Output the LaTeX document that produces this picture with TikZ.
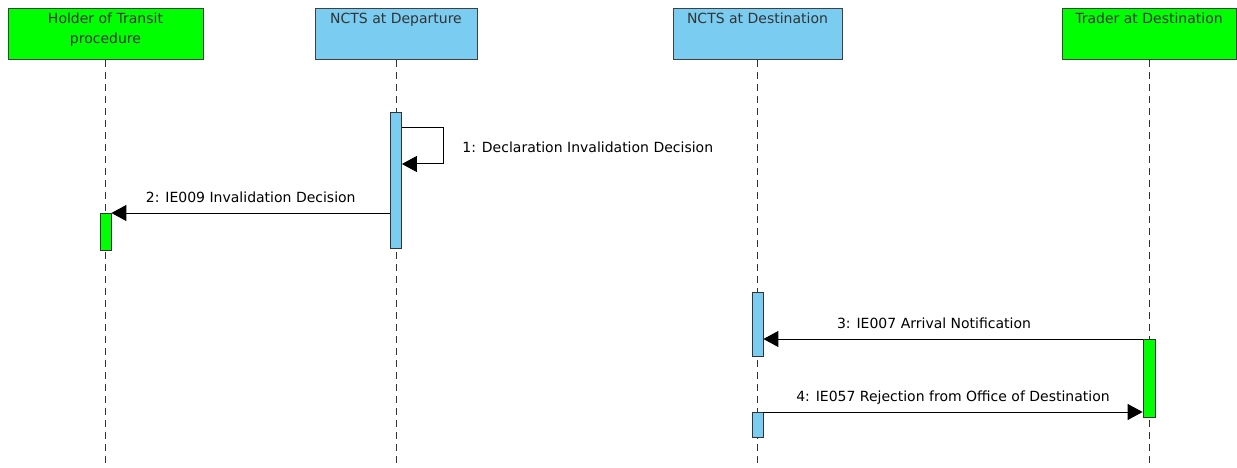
\documentclass[tikz,border=0pt]{standalone}
\usepackage{fontspec}
\setmainfont{DejaVu Sans}
\usetikzlibrary{arrows.meta}
\definecolor{lifeblue}{RGB}{122,204,240}
\definecolor{lifegreen}{RGB}{0,255,0}

\begin{document}
\begin{tikzpicture}[line join=miter,>={Triangle[length=15pt,width=16pt]},x=1pt,y=-1pt,
	head/.style={draw=black!75,line width=1pt,minimum height=51pt,anchor=north,inner sep=0pt},
	headtext/.style={anchor=north,align=center,inner sep=0pt,font=\fontsize{14}{20}\selectfont,text=black!80},
	life/.style={line width=0.8pt,dash pattern=on 7pt off 5pt,color=black!80},
	act/.style={draw=black!80,line width=0.8pt,minimum width=11pt,inner sep=0pt,anchor=north},
	msg/.style={line width=1pt,->},
	msgtext/.style={font=\fontsize{14}{17}\selectfont,inner sep=0pt,text depth=0pt}]
				\useasboundingbox (0,0) rectangle (1237,468);
				\node [head,fill=lifegreen,minimum width=195pt] (holder) at (105.5,8) {};
				\node [head,fill=lifeblue,minimum width=162pt] (dep) at (396,8) {};
				\node [head,fill=lifeblue,minimum width=169pt] (dst) at (757.5,8) {};
				\node [head,fill=lifegreen,minimum width=174pt] (trd) at (1149,8) {};
				\node [headtext] (holder-name) at ([yshift=-5pt]holder.north) {Holder of Transit\\procedure};
				\node [headtext] (dep-name) at ([yshift=-5pt]dep.north) {NCTS at Departure};
				\node [headtext] (dst-name) at ([yshift=-5pt]dst.north) {NCTS at Destination};
				\node [headtext] (trd-name) at ([yshift=-5pt]trd.north) {Trader at Destination};
				\coordinate (holder-end) at (105.5,468);
				\coordinate (dep-end) at (396,468);
				\coordinate (dst-end) at (757.5,468);
				\coordinate (trd-end) at (1149,468);
				\draw [life] (holder.south) -- (holder-end);
				\draw [life] (dep.south) -- (dep-end);
				\draw [life] (dst.south) -- (dst-end);
				\draw [life] (trd.south) -- (trd-end);
				\node [act,fill=lifeblue,minimum height=136pt] (dep-act) at (396,112) {};
				\node [act,fill=lifegreen,minimum height=37pt] (holder-act) at (105.5,213) {};
				\node [act,fill=lifeblue,minimum height=64pt] (dst-act) at (757.5,292) {};
				\node [act,fill=lifegreen,minimum height=78pt,minimum width=12pt] (trd-act) at (1149,339) {};
				\node [act,fill=lifeblue,minimum height=25pt] (dst-act2) at (757.5,412) {};
				\draw [msg] ([yshift=-16pt]dep-act.north east) -- ++(42,0) -- ++(0,36) node [msgtext,midway,anchor=west,xshift=18pt,yshift=-1pt] (decl) {1: Declaration Invalidation Decision} coordinate (self-end) -- (self-end -| dep-act.east);
				\draw [msg] (dep-act.west |- holder-act.north) -- (holder-act.north east) node [msgtext,midway,above=10pt] (ie009) {2: IE009 Invalidation Decision};
				\draw [msg] (trd-act.north west) -- (dst-act.east |- trd-act.north) node [msgtext,pos=0.55,above=10pt] (ie007) {3: IE007 Arrival Notification};
				\draw [msg] (dst-act2.north east) -- (trd-act.west |- dst-act2.north) node [msgtext,midway,above=10pt] (ie057) {4: IE057 Rejection from Office of Destination};
			\end{tikzpicture}
\end{document}
